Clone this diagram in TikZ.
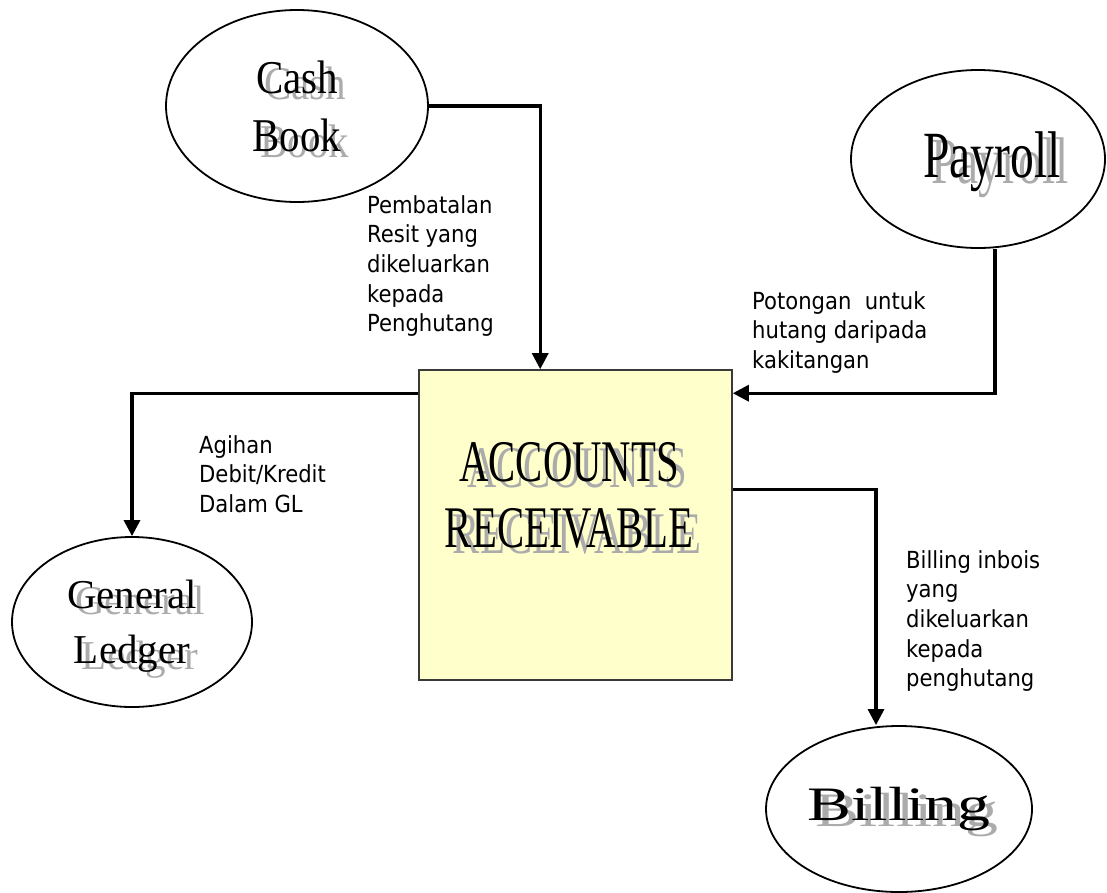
\documentclass[tikz,border=0pt]{standalone}
\usepackage{fontspec}
\setmainfont{Liberation Serif}
\newfontfamily\labelfont{DejaVu Sans Condensed}
\usetikzlibrary{arrows.meta}
\usetikzlibrary{shapes.geometric}
\definecolor{boxyellow}{HTML}{FFFFCC}
\definecolor{boxborder}{HTML}{3A3A3A}
\definecolor{shadowgray}{HTML}{ABABAB}
% grey copy of a word, set a little right and down
\newcommand{\shd}[2][1]{\makebox[0pt][l]{\hspace{8pt}\smash{\raisebox{-6pt}{\textcolor{shadowgray}{\scalebox{#1}[1]{#2}}}}}\scalebox{#1}[1]{#2}}

\begin{document}
\begin{tikzpicture}[x=1pt,y=-1pt,
    flow/.style={-{Triangle[width=16pt,length=16pt]},line width=3.2pt},
    every node/.append style={inner sep=0pt},
    entity/.style={ellipse,draw,line width=1.8pt,align=center},
    flowtext/.style={align=left,anchor=north west,font=\labelfont\fontsize{23.5}{29.7}\selectfont}]

\useasboundingbox (0,0) rectangle (1107,892);

\node[entity,minimum width=262pt,minimum height=192pt,font=\fontsize{47}{58}\selectfont] (cash) at (297,106) {\shd[0.87]{Cash}\\ \shd[0.87]{Book}};
\node[entity,minimum width=254pt,minimum height=178pt] (payroll) at (978,159) {};
\node[font=\fontsize{66}{66}\selectfont] (payrolltitle) at (992,162) {\shd[0.72]{Payroll}};
\node[entity,minimum width=240pt,minimum height=170pt,text depth=0pt,font=\fontsize{41}{55}\selectfont] (gl) at (132,622) {\shd{General}\\ \shd{Ledger}};
\node[entity,minimum width=266pt,minimum height=166pt,font=\fontsize{48}{48}\selectfont] (billing) at (899,809) {\shd[1.37]{Billing}};

\node[draw=boxborder,fill=boxyellow,line width=1.6pt,minimum width=313pt,minimum height=310pt] (ar) at (575.5,525) {};
\node[align=center,font=\fontsize{59}{66}\selectfont] (artitle) at (569,495) {\shd[0.69]{ACCOUNTS}\\ \shd[0.69]{RECEIVABLE}};

\draw[flow] (cash.east) -| ([xshift=122pt]ar.north west);
\draw[flow] ([xshift=17pt]payroll.south) |- ([yshift=-24pt]ar.north east);
\draw[flow] ([yshift=-24pt]ar.north west) -| (gl.north);
\draw[flow] ([yshift=-120pt]ar.north east) -| ([xshift=-23pt]billing.north);

\node[flowtext] (cashflow) at (367,195) {Pembatalan\\Resit yang\\dikeluarkan\\kepada\\Penghutang};
\node[flowtext] (payrollflow) at (752,291) {Potongan\ \ untuk\\hutang daripada\\kakitangan};
\node[flowtext] (glflow) at (199,435) {Agihan\\Debit/Kredit\\Dalam GL};
\node[flowtext] (billingflow) at (906,550) {Billing inbois\\yang\\dikeluarkan\\kepada\\penghutang};

\end{tikzpicture}
\end{document}
